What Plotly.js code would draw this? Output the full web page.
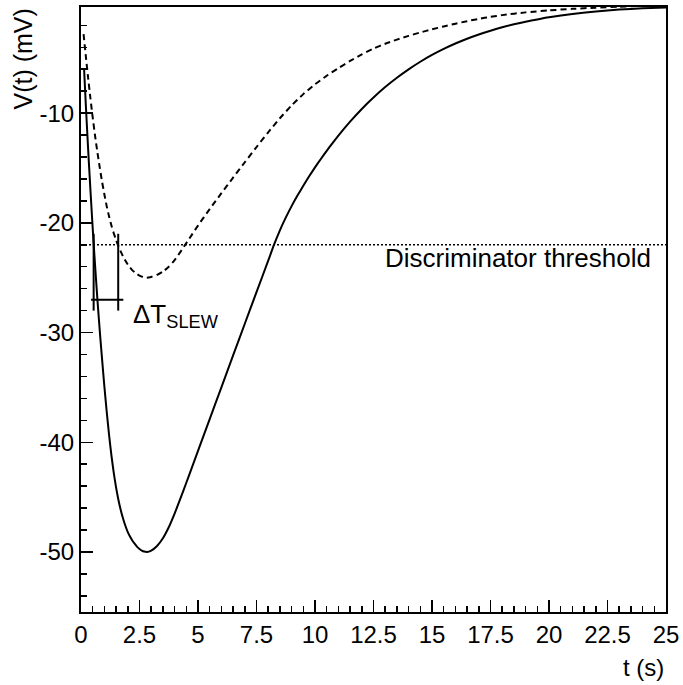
<!DOCTYPE html>
<html>
<head>
<meta charset="utf-8">
<script src="https://cdn.plot.ly/plotly-3.0.1.min.js"></script>
<style>html,body{margin:0;padding:0;background:#fff;}#chart{width:683px;height:685px;}</style>
</head>
<body>
<div id="chart"></div>
<script>
// Full-amplitude pulse (solid line)
const tSolid = [0.13, 0.2, 0.3, 0.4, 0.54, 0.7, 0.83, 1.0, 1.1, 1.2, 1.3, 1.4, 1.5, 1.6, 1.7, 1.8, 1.9, 2.0, 2.1, 2.2, 2.3, 2.4, 2.5, 2.6, 2.7, 2.82, 3.0, 3.25, 3.5, 3.75, 4.0, 4.25, 4.5, 4.75, 5.0, 5.5, 6.0, 6.5, 7.0, 7.5, 8.0, 8.25, 8.5, 8.75, 9.0, 9.25, 9.5, 9.75, 10.0, 10.25, 10.5, 10.75, 11.0, 11.5, 12.0, 12.5, 13.0, 13.5, 14.0, 14.5, 15.0, 15.5, 16.0, 16.5, 17.0, 17.5, 18.0, 18.5, 19.0, 19.5, 20.0, 21.0, 22.0, 23.0, 24.0, 25.0];
const vSolid = [-5.9, -9.0, -13.1, -16.9, -21.9, -26.95, -30.6, -34.94, -37.24, -39.34, -41.19, -42.79, -44.14, -45.26, -46.19, -46.97, -47.63, -48.19, -48.61, -48.97, -49.27, -49.53, -49.72, -49.87, -49.96, -50.0, -49.87, -49.45, -48.75, -47.75, -46.5, -45.12, -43.69, -42.24, -40.79, -37.89, -34.99, -32.09, -29.2, -26.32, -23.45, -21.99, -20.68, -19.53, -18.48, -17.52, -16.62, -15.76, -14.95, -14.18, -13.44, -12.73, -12.05, -10.78, -9.62, -8.58, -7.63, -6.78, -6.01, -5.32, -4.7, -4.15, -3.66, -3.22, -2.83, -2.49, -2.18, -1.91, -1.67, -1.46, -1.27, -0.96, -0.73, -0.56, -0.45, -0.38];
// Half-amplitude pulse (dashed line)
const tDashed = [0.11, 0.2, 0.3, 0.4, 0.5, 0.6, 0.7, 0.8, 0.9, 1.0, 1.1, 1.2, 1.3, 1.4, 1.5, 1.6, 1.7, 1.8, 1.9, 2.0, 2.1, 2.2, 2.3, 2.4, 2.5, 2.6, 2.7, 2.81, 3.0, 3.25, 3.5, 3.75, 4.0, 4.25, 4.5, 4.75, 5.0, 5.5, 6.0, 6.5, 7.0, 7.5, 8.0, 8.5, 9.0, 9.5, 10.0, 10.5, 11.0, 11.5, 12.0, 12.5, 13.0, 13.5, 14.0, 14.5, 15.0, 15.5, 16.0, 16.5, 17.0, 17.5, 18.0, 19.0, 20.0, 21.0, 22.0, 23.0, 24.0, 25.0];
const vDashed = [-2.8, -4.7, -6.7, -8.6, -10.4, -12.05, -13.55, -14.95, -16.25, -17.42, -18.5, -19.42, -20.25, -20.95, -21.58, -22.13, -22.63, -23.07, -23.46, -23.8, -24.08, -24.33, -24.52, -24.68, -24.81, -24.9, -24.96, -25.0, -24.93, -24.75, -24.45, -24.0, -23.4, -22.65, -21.85, -21.05, -20.25, -18.75, -17.3, -15.88, -14.48, -13.1, -11.75, -10.47, -9.3, -8.27, -7.38, -6.6, -5.9, -5.25, -4.65, -4.12, -3.68, -3.3, -2.96, -2.65, -2.37, -2.1, -1.85, -1.62, -1.41, -1.23, -1.07, -0.82, -0.64, -0.5, -0.39, -0.3, -0.23, -0.17];
// Discriminator threshold
const thresholdV = -22;
const thresholdT = [0, 25];
// Slew markers
const slewTimes = [0.54, 1.59];
const slewBarV = [-21.0, -28.0];
const slewHorizT = [0.43, 1.81];
const slewHorizV = -27;
// Axis ticks
const xTickVals = [0, 2.5, 5, 7.5, 10, 12.5, 15, 17.5, 20, 22.5, 25];
const xTickLabels = ["0", "2.5", "5", "7.5", "10", "12.5", "15", "17.5", "20", "22.5", "25"];
const yTickVals = [-50, -40, -30, -20, -10];
const yTickLabels = ["-50", "-40", "-30", "-20", "-10"];

const FONT = "Liberation Sans, Arial, Helvetica, sans-serif";
const black = "#000";

const traces = [
  {x: thresholdT, y: [thresholdV, thresholdV], mode: "lines", line: {color: black, width: 1.5, dash: "2px,2px"}, hoverinfo: "skip"},
  {x: tDashed, y: vDashed, mode: "lines", line: {color: black, width: 2, dash: "6px,4px", shape: "spline", smoothing: 0.6}},
  {x: tSolid, y: vSolid, mode: "lines", line: {color: black, width: 2, shape: "spline", smoothing: 0.6}},
  {x: [slewTimes[0], slewTimes[0]], y: slewBarV, mode: "lines", line: {color: black, width: 2}},
  {x: [slewTimes[1], slewTimes[1]], y: slewBarV, mode: "lines", line: {color: black, width: 2}},
  {x: slewHorizT, y: [slewHorizV, slewHorizV], mode: "lines", line: {color: black, width: 2}}
];

const layout = {
  width: 683, height: 685,
  margin: {l: 81, r: 17, t: 7, b: 73},
  paper_bgcolor: "#fff", plot_bgcolor: "#fff",
  showlegend: false,
  font: {family: FONT, size: 24, color: black},
  xaxis: {
    range: [0, 25], tickvals: xTickVals, ticktext: xTickLabels,
    ticks: "inside", ticklen: 12, tickwidth: 1.5, tickcolor: black,
    minor: {dtick: 0.5, tick0: 0, ticks: "inside", ticklen: 6, tickwidth: 1.5, tickcolor: black},
    showline: true, mirror: true, linewidth: 2, linecolor: black,
    showgrid: false, zeroline: false,
    tickfont: {family: FONT, size: 24, color: black}
  },
  yaxis: {
    range: [-55.47, -0.33], tickvals: yTickVals, ticktext: yTickLabels,
    ticks: "inside", ticklen: 12, tickwidth: 1.5, tickcolor: black,
    minor: {dtick: 2, tick0: 0, ticks: "inside", ticklen: 6, tickwidth: 1.5, tickcolor: black},
    showline: true, mirror: true, linewidth: 2, linecolor: black,
    showgrid: false, zeroline: false,
    tickfont: {family: FONT, size: 24, color: black}
  },
  annotations: [
    {text: "V(t) (mV)", xref: "paper", yref: "paper", x: 0, y: 1, xanchor: "right", yanchor: "top",
     xshift: -43, yshift: 0, textangle: -90, showarrow: false, font: {family: FONT, size: 25, color: black}},
    {text: "t (s)", xref: "paper", yref: "paper", x: 1, y: 0, xanchor: "right", yanchor: "top",
     yshift: -40, showarrow: false, font: {family: FONT, size: 24, color: black}},
    {text: "Discriminator threshold", xref: "paper", yref: "y", x: 0.977, y: thresholdV, xanchor: "right", yanchor: "top",
     yshift: 4, showarrow: false, font: {family: FONT, size: 26, color: black}},
    {text: "ΔT<sub>SLEW</sub>", xref: "x", yref: "y", x: 2.15, y: slewHorizV, xanchor: "left", yanchor: "top",
     yshift: 3, showarrow: false, font: {family: FONT, size: 26, color: black}}
  ]
};

Plotly.newPlot("chart", traces, layout, {staticPlot: true, displayModeBar: false});
</script>
</body>
</html>
